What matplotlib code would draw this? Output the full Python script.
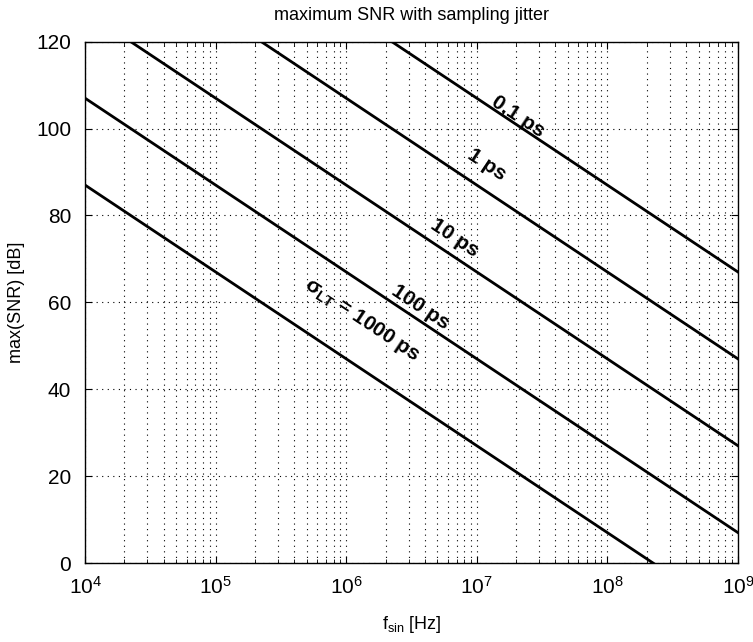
import numpy as np
import matplotlib
matplotlib.use("Agg")
import matplotlib.pyplot as plt
from matplotlib.ticker import LogLocator, NullFormatter

plt.rcParams['font.family'] = ['Liberation Sans', 'DejaVu Sans']
plt.rcParams['mathtext.fontset'] = 'custom'
plt.rcParams['mathtext.rm'] = 'Liberation Sans'
plt.rcParams['mathtext.it'] = 'Liberation Sans:italic'
plt.rcParams['mathtext.bf'] = 'Liberation Sans:bold'

# line endpoints (f in Hz, SNR in dB)
f_ends = [1e4, 1e9]
jitter_labels = ["0,1 ps", "1 ps", "10 ps", "100 ps", r"$\mathbf{\sigma_{LT}}$ = 1000 ps"]
snr_start = [167, 147, 127, 107, 87]
snr_end = [67, 47, 27, 7, -13]

# label anchor (f, dB) for each line
label_f = [2.07e7, 1.2e7, 6.8e6, 3.67e6, 1.33e6]
label_y = [102.8, 91.8, 74.9, 58.8, 56.0]

fig = plt.figure(figsize=(7.53, 6.42), dpi=100)
ax = fig.add_axes([0.113, 0.123, 0.867, 0.812])

for s0, s1 in zip(snr_start, snr_end):
    ax.plot(f_ends, [s0, s1], color="black", lw=2.0)

ax.set_xscale("log")
ax.set_xlim(1e4, 1e9)
ax.set_ylim(0, 120)
ax.set_yticks(np.arange(0, 121, 20))
ax.xaxis.set_minor_locator(LogLocator(base=10, subs=np.arange(2, 10)))
ax.xaxis.set_minor_formatter(NullFormatter())

ax.grid(True, which="major", color="black", linestyle=(0, (1, 4)), lw=0.8)
ax.grid(True, which="minor", axis="x", color="black", linestyle=(0, (1, 4)), lw=0.8)
ax.tick_params(which="both", direction="in", top=True, right=True, labelsize=15)
ax.tick_params(which="major", length=5)
ax.tick_params(which="minor", length=3)
ax.tick_params(axis="x", pad=9)
ax.tick_params(axis="y", pad=10)
for sp in ax.spines.values():
    sp.set_linewidth(1.0)

ax.set_title("maximum SNR with sampling jitter", fontsize=13, pad=16)
ax.set_xlabel(r"f$_{\mathrm{sin}}$ [Hz]", fontsize=13, labelpad=12)
ax.set_ylabel("max(SNR) [dB]", fontsize=13, labelpad=8)

# text angle from slope in display space
fig.canvas.draw()
p0 = ax.transData.transform((f_ends[0], snr_start[0]))
p1 = ax.transData.transform((f_ends[1], snr_end[0]))
angle = np.degrees(np.arctan2(p1[1] - p0[1], p1[0] - p0[0]))

for lab, fx, fy in zip(jitter_labels, label_f, label_y):
    ax.text(fx, fy, lab, rotation=angle, rotation_mode="anchor",
            ha="center", va="center", fontsize=15, fontweight="bold")

fig.savefig("out.png", dpi=100)
